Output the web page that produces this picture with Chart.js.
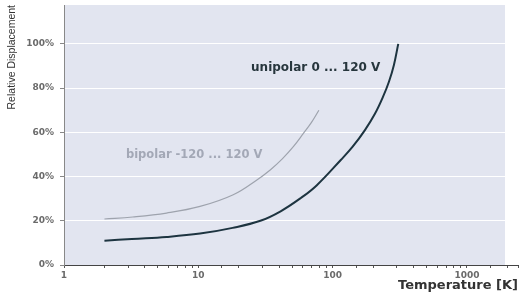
<!DOCTYPE html>
<html>
<head>
<meta charset="utf-8">
<script src="https://cdn.jsdelivr.net/npm/chart.js@4"></script>
<style>
  html, body { margin: 0; padding: 0; background: #fff; }
  #wrap { width: 522px; height: 308px; }
</style>
</head>
<body>
<div id="wrap"><canvas id="dispChart"></canvas></div>
<script>
// unipolar 0 ... 120 V  (temperature in K, displacement in %)
const uniTemps = [2, 3.2, 5.8, 10.3, 18, 29, 41, 58, 76, 115, 141, 174, 207, 237, 263, 286, 308];
const uniValues = [11.0, 11.8, 12.7, 14.2, 16.8, 20, 24.3, 30.3, 36, 47.5, 53.5, 61, 68.5, 76, 83, 90.5, 100];

// bipolar -120 ... 120 V
const biTemps = [2, 3.25, 5.8, 10.3, 18.2, 27.3, 34.3, 42.2, 51, 60.6, 69.6, 79];
const biValues = [20.8, 21.7, 23.5, 26.5, 31.8, 38.5, 43, 48, 53.5, 59.5, 64.5, 70];

const xTickLabels = [1, 10, 100, 1000];
const yTickValues = [0, 20, 40, 60, 80, 100];

function toPoints(xs, ys) {
    return xs.map((x, i) => ({ x: x, y: ys[i] }));
}

// light panel behind the curves + the two curve captions
const panelPlugin = {
    id: 'panel',
    beforeDraw(chart, args, opts) {
        const { ctx, chartArea, scales } = chart;
        const right = scales.x.getPixelForValue(opts.maxT);
        ctx.save();
        ctx.fillStyle = opts.color;
        ctx.fillRect(chartArea.left, chartArea.top, right - chartArea.left, chartArea.bottom - chartArea.top);
        ctx.restore();
    },
    afterDatasetsDraw(chart, args, opts) {
        const { ctx, scales } = chart;
        ctx.save();
        ctx.textBaseline = 'middle';
        ctx.textAlign = 'left';
        opts.labels.forEach(l => {
            ctx.fillStyle = l.color;
            ctx.font = l.font;
            ctx.fillText(l.text, scales.x.getPixelForValue(l.t), scales.y.getPixelForValue(l.y));
        });
        ctx.restore();
    }
};

const ctx = document.getElementById('dispChart').getContext('2d');
new Chart(ctx, {
    type: 'line',
    data: {
        datasets: [
            {
                label: 'unipolar 0 ... 120 V',
                data: toPoints(uniTemps, uniValues),
                borderColor: '#1d3440',
                borderWidth: 2,
                pointRadius: 0,
                tension: 0.4,
                fill: false
            },
            {
                label: 'bipolar -120 ... 120 V',
                data: toPoints(biTemps, biValues),
                borderColor: '#9ea3ad',
                borderWidth: 1.2,
                pointRadius: 0,
                tension: 0.4,
                fill: false
            }
        ]
    },
    options: {
        responsive: true,
        maintainAspectRatio: false,
        animation: false,
        layout: { padding: { left: 4, right: 4, top: 5, bottom: 15 } },
        scales: {
            x: {
                type: 'logarithmic',
                min: 1,
                max: 2400,
                afterFit: s => { s.height = 28; s.paddingLeft = 0; s.paddingRight = 0; },
                border: { color: '#444', width: 1 },
                grid: { drawOnChartArea: false, tickLength: 3, tickColor: '#555' },
                ticks: {
                    autoSkip: false,
                    maxRotation: 0,
                    padding: 2,
                    color: '#6a6a6a',
                    font: { family: '"DejaVu Sans", sans-serif', size: 9, weight: 'bold' },
                    callback: v => xTickLabels.includes(v) ? String(v) : ''
                },
                title: {
                    display: true,
                    text: 'Temperature [K]',
                    align: 'end',
                    color: '#333',
                    padding: { top: 0, bottom: 0 },
                    font: { family: '"DejaVu Sans", sans-serif', size: 13, weight: 'bold' }
                }
            },
            y: {
                min: 0,
                max: 117.6,
                afterFit: s => { s.width = 60; s.paddingTop = 0; s.paddingBottom = 0; },
                afterBuildTicks: s => { s.ticks = yTickValues.map(v => ({ value: v })); },
                border: { color: '#888', width: 1 },
                grid: { color: '#ffffff', lineWidth: 1, tickLength: 4, tickColor: '#888' },
                ticks: {
                    padding: 6,
                    color: '#6a6a6a',
                    font: { family: '"DejaVu Sans", sans-serif', size: 9, weight: 'bold' },
                    callback: v => v + '%'
                },
                title: {
                    display: true,
                    text: 'Relative Displacement',
                    align: 'end',
                    color: '#333',
                    padding: { top: 2, bottom: 2 },
                    font: { family: '"Liberation Sans", Arial, sans-serif', size: 10.5 }
                }
            }
        },
        plugins: {
            legend: { display: false },
            tooltip: { enabled: false },
            panel: {
                color: '#e2e5f0',
                maxT: 1920,
                labels: [
                    { text: 'unipolar 0 ... 120 V', t: 24.7, y: 89, color: '#27363d',
                      font: 'bold 12px "DejaVu Sans", sans-serif' },
                    { text: 'bipolar -120 ... 120 V', t: 2.89, y: 49.9, color: '#a3a8b6',
                      font: 'bold 11.5px "DejaVu Sans", sans-serif' }
                ]
            }
        }
    },
    plugins: [panelPlugin]
});
</script>
</body>
</html>
